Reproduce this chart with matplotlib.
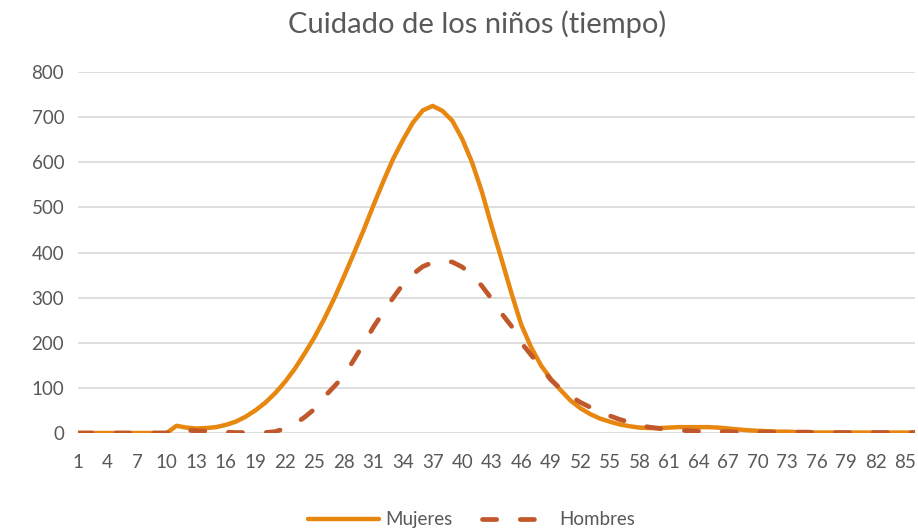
import numpy as np
import matplotlib.pyplot as plt

plt.rcParams['font.family'] = ['Lato', 'DejaVu Sans']

edad = list(range(1, 87))

mujeres = [0, 0, 0, 0, 0, 0, 0, 0, 0, 0,
           16, 12, 10, 11, 13, 18, 25, 36, 50, 67,
           88, 113, 142, 176, 212, 253, 298, 347, 398, 450,
           505, 558, 608, 650, 688, 715, 725, 714, 692, 652,
           600, 535, 458, 385, 310, 240, 190, 150, 120, 95,
           72, 55, 42, 32, 25, 19, 15, 12, 11, 11,
           12, 13, 13, 13, 13, 12, 10, 8, 6, 5,
           4, 3, 3, 2, 1, 1, 1, 1, 1, 1,
           1, 1, 1, 1, 1, 1]

hombres = [0, 0, 0, 0, 0, 0, 0, 0, 0, 0,
           8, 6, 5, 4, 3, 2, 1, 1, 1, 1,
           3, 10, 20, 35, 53, 80, 103, 127, 162, 198,
           235, 268, 300, 330, 352, 369, 378, 382, 379, 368,
           350, 326, 297, 265, 237, 200, 173, 146, 118, 98,
           82, 68, 57, 47, 38, 30, 24, 17, 13, 10,
           8, 6, 5, 4, 4, 3, 3, 2, 2, 2,
           2, 2, 2, 2, 2, 1, 1, 1, 1, 1,
           1, 1, 1, 1, 1, 1]

ticks_x = list(range(1, 87, 3))
ticks_y = [0, 100, 200, 300, 400, 500, 600, 700, 800]

texto = '#595959'

fig = plt.figure(figsize=(9.18, 5.30), dpi=100)
ax = fig.add_axes([0.085, 0.183, 0.912, 0.681])

ax.plot(edad, mujeres, color='#E8870F', lw=3.2, solid_capstyle='round',
        label='Mujeres', zorder=3)
ax.plot(edad, hombres, color='#C0582B', lw=3.4, dashes=(3.0, 5.0),
        dash_capstyle='round', label='Hombres', zorder=4)

ax.set_xlim(1, 86)
ax.set_ylim(0, 800)
ax.set_xticks(ticks_x)
ax.set_yticks(ticks_y)
ax.tick_params(length=0, labelsize=13.5, labelcolor=texto)
ax.tick_params(axis='x', pad=15)
ax.tick_params(axis='y', pad=10)
ax.grid(axis='y', color='#D9D9D9', lw=1.2)
ax.set_axisbelow(True)
for s in ax.spines.values():
    s.set_visible(False)

fig.text(0.52, 0.955, 'Cuidado de los niños (tiempo)', ha='center', va='center',
         fontsize=21, color=texto)

ax.legend(loc='center', bbox_to_anchor=(0.47, -0.24), ncol=2, frameon=False,
          fontsize=13.5, labelcolor=texto, handlelength=3.8, columnspacing=1.6,
          handletextpad=0.3)

fig.savefig('out.png', dpi=100)
